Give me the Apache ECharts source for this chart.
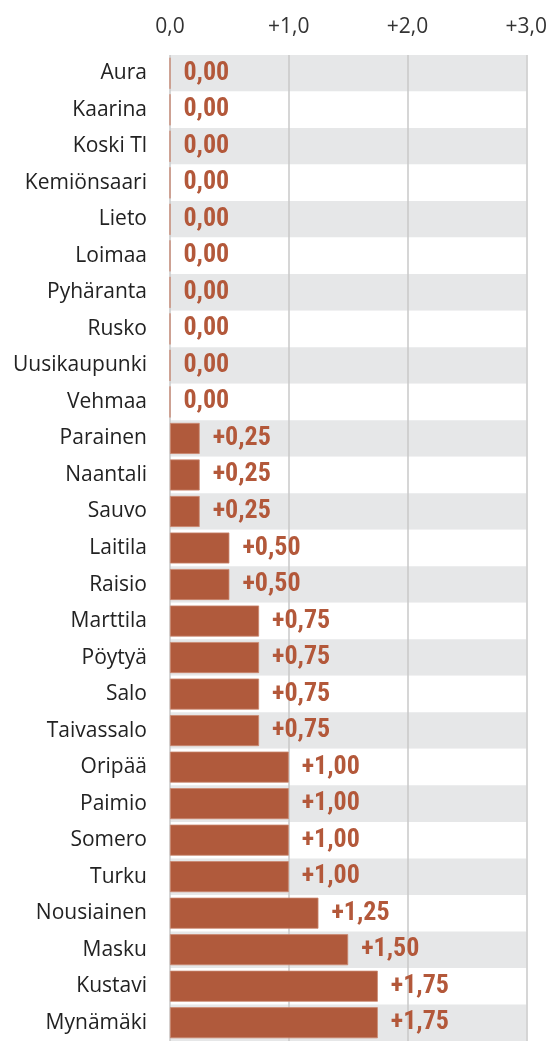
<!DOCTYPE html>
<html>
<head>
<meta charset="utf-8">
<script src="https://cdn.jsdelivr.net/npm/echarts@6/dist/echarts.min.js"></script>
<style>
  html, body { margin: 0; padding: 0; background: #fff; }
  #chart { width: 550px; height: 1041px; }
</style>
</head>
<body>
<div id="chart"></div>
<script>
// kunnat ylhäältä alas
var kunnat = ['Aura', 'Kaarina', 'Koski Tl', 'Kemiönsaari', 'Lieto', 'Loimaa', 'Pyhäranta', 'Rusko',
  'Uusikaupunki', 'Vehmaa', 'Parainen', 'Naantali', 'Sauvo', 'Laitila', 'Raisio', 'Marttila',
  'Pöytyä', 'Salo', 'Taivassalo', 'Oripää', 'Paimio', 'Somero', 'Turku', 'Nousiainen', 'Masku',
  'Kustavi', 'Mynämäki'];
var muutos = [0, 0, 0, 0, 0, 0, 0, 0, 0, 0, 0.25, 0.25, 0.25, 0.5, 0.5, 0.75, 0.75, 0.75, 0.75,
  1, 1, 1, 1, 1.25, 1.5, 1.75, 1.75];
var tickLabels = ['0,0', '+1,0', '+2,0', '+3,0'];

var barColor = '#b05a3c';

var chart = echarts.init(document.getElementById('chart'));

function fmt(v) {
  var s = v.toFixed(2).replace('.', ',');
  return v > 0 ? '+' + s : s;
}

var option = {
  animation: false,
  grid: {
    left: 170,
    right: 22,
    top: 55,
    height: 989
  },
  xAxis: {
    type: 'value',
    position: 'top',
    min: 0,
    max: 3,
    interval: 1,
    axisLine: { show: false },
    axisTick: { show: false },
    axisLabel: {
      color: '#333',
      fontSize: 21,
      fontFamily: 'Open Sans',
      margin: 17,
      formatter: function (v) { return tickLabels[Math.round(v)]; }
    },
    splitLine: { show: true, lineStyle: { color: '#c8c8c8', width: 1.5 } }
  },
  yAxis: {
    type: 'category',
    inverse: true,
    data: kunnat,
    axisLine: { show: false },
    axisTick: { show: false },
    axisLabel: {
      color: '#222',
      fontSize: 21,
      fontFamily: 'Open Sans',
      margin: 23
    },
    splitArea: {
      show: true,
      areaStyle: { color: ['#e6e7e8', '#ffffff'] }
    }
  },
  series: [{
    type: 'bar',
    data: muutos,
    barCategoryGap: '15%',
    itemStyle: {
      color: barColor,
      borderColor: '#c9876e',
      borderWidth: 0.8
    },
    label: {
      show: true,
      position: 'right',
      distance: 13,
      color: '#b3583a',
      fontSize: 26,
      fontWeight: 'bold',
      fontFamily: '"Roboto Condensed", "Noto Sans Condensed", "DejaVu Sans Condensed", sans-serif',
      formatter: function (p) { return fmt(p.value); }
    }
  }]
};

chart.setOption(option);
</script>
</body>
</html>
